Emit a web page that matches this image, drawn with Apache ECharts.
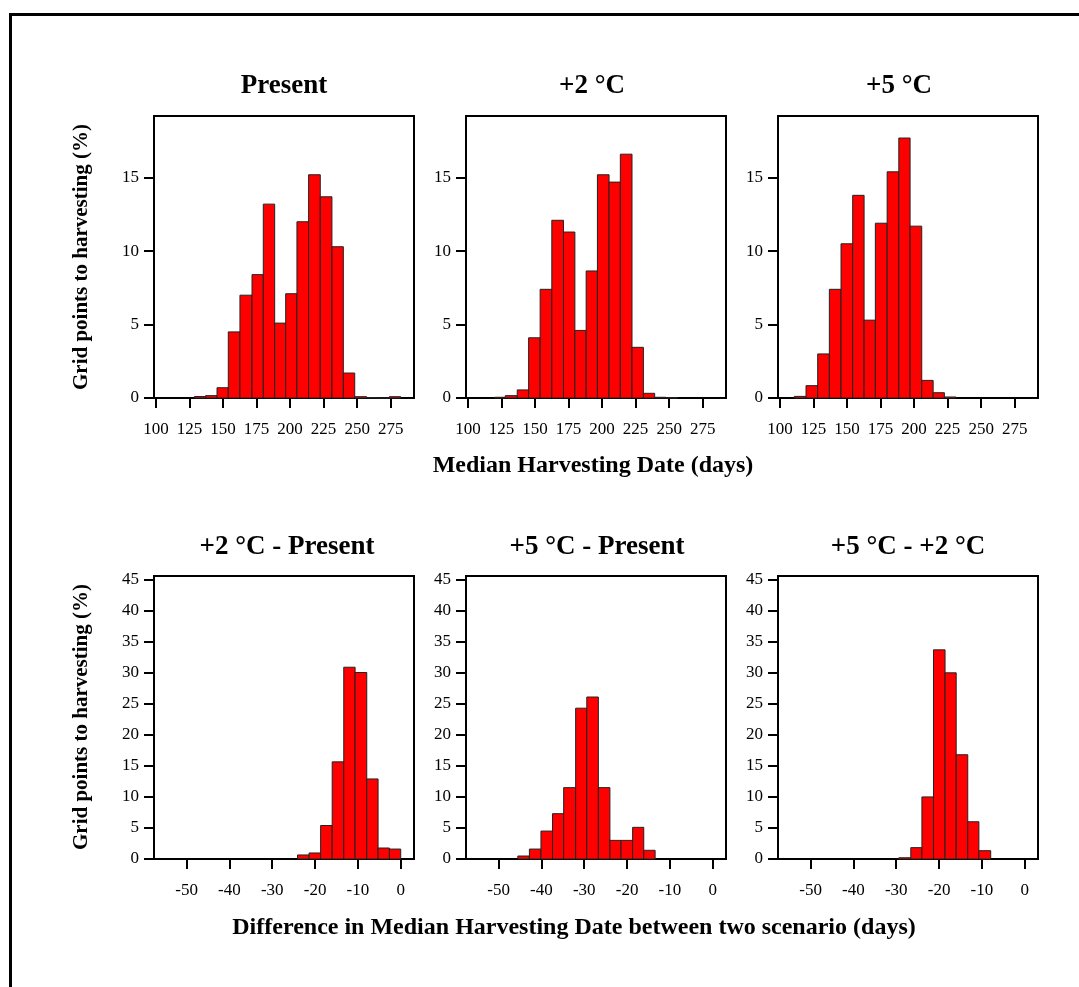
<!DOCTYPE html>
<html>
<head>
    <meta charset="utf-8">
    <script src="https://cdn.jsdelivr.net/npm/echarts@6/dist/echarts.min.js"></script>
</head>
<body style="margin: 0; background: #fff">
<div id="main" style="width: 1079px; height: 987px"></div>
<script type="text/javascript">
    // panel titles
    var titles = ['Present', '+2 \u00b0C', '+5 \u00b0C', '+2 \u00b0C - Present', '+5 \u00b0C - Present', '+5 \u00b0C - +2 \u00b0C'];

    // tick labels
    var dateTicks = [100, 125, 150, 175, 200, 225, 250, 275];
    var dateShareTicks = [0, 5, 10, 15];
    var diffTicks = [-50, -40, -30, -20, -10, 0];
    var diffShareTicks = [0, 5, 10, 15, 20, 25, 30, 35, 40, 45];

    // histogram bin edges (days) and heights (%)
    var presentEdges = [128.6, 137.0, 145.5, 153.9, 162.6, 171.6, 180.0, 188.5, 196.7, 205.1, 213.8, 222.5, 231.2, 239.7, 248.2, 257.1, 265.8, 274.0, 282.5];
    var presentValues = [0.10, 0.16, 0.7, 4.5, 7.0, 8.4, 13.2, 5.1, 7.1, 12.0, 15.2, 13.7, 10.3, 1.7, 0.09, 0.03, 0, 0.09];

    var plus2Edges = [119.9, 127.8, 136.7, 145.2, 153.8, 162.5, 171.2, 179.7, 188.1, 196.5, 205.2, 213.6, 222.3, 230.8, 239.2, 247.6, 256.3];
    var plus2Values = [0.05, 0.16, 0.55, 4.1, 7.4, 12.1, 11.3, 4.6, 8.65, 15.2, 14.7, 16.6, 3.45, 0.32, 0.05, 0.02];

    var plus5Edges = [110.7, 119.4, 128.1, 136.8, 145.5, 154.2, 162.7, 171.1, 179.9, 188.6, 197.0, 205.7, 214.2, 222.6, 231.3];
    var plus5Values = [0.11, 0.84, 3.0, 7.4, 10.5, 13.8, 5.3, 11.9, 15.4, 17.7, 11.7, 1.2, 0.36, 0.07];

    var diff2pEdges = [-24.1, -21.4, -18.7, -16.0, -13.3, -10.65, -7.93, -5.29, -2.64, 0];
    var diff2pValues = [0.65, 0.97, 5.4, 15.65, 30.9, 30.05, 12.9, 1.77, 1.6];

    var diff5pEdges = [-45.5, -42.8, -40.1, -37.4, -34.8, -32.0, -29.4, -26.7, -24.0, -21.4, -18.7, -16.1, -13.45];
    var diff5pValues = [0.48, 1.6, 4.5, 7.3, 11.5, 24.3, 26.1, 11.5, 3.0, 3.0, 5.1, 1.4];

    var diff52Edges = [-29.4, -26.6, -24.0, -21.3, -18.6, -16.0, -13.3, -10.7, -7.94];
    var diff52Values = [0.2, 1.83, 10.0, 33.7, 30.0, 16.8, 6.0, 1.34];

    var serif = "'Liberation Serif', 'Times New Roman', serif";

    var panels = [
        {edges: presentEdges, values: presentValues, top: true},
        {edges: plus2Edges, values: plus2Values, top: true},
        {edges: plus5Edges, values: plus5Values, top: true},
        {edges: diff2pEdges, values: diff2pValues, top: false},
        {edges: diff5pEdges, values: diff5pValues, top: false},
        {edges: diff52Edges, values: diff52Values, top: false}
    ];
    var lefts = [154, 466, 778];
    var titleX = [284, 592, 899, 287, 597, 908];

    function toBins(edges, values) {
        return values.map(function (v, i) {
            return [edges[i], edges[i + 1], v];
        });
    }

    function renderBar(params, api) {
        var p0 = api.coord([api.value(0), 0]);
        var p1 = api.coord([api.value(1), api.value(2)]);
        return {
            type: 'rect',
            shape: {x: p0[0], y: p1[1], width: p1[0] - p0[0], height: p0[1] - p1[1]},
            style: {fill: '#ff0000', stroke: '#222', lineWidth: 1}
        };
    }

    var axisLine = {show: true, onZero: false, lineStyle: {color: '#000', width: 2}};
    var axisTick = {show: true, length: 10, lineStyle: {color: '#000', width: 2}};
    var labelStyle = {color: '#000', fontFamily: serif, fontSize: 17};

    var grids = [], xAxes = [], yAxes = [], series = [];
    panels.forEach(function (p, i) {
        grids.push({
            left: lefts[i % 3], width: 260,
            top: p.top ? 116 : 576, height: p.top ? 282 : 283,
            show: true, borderColor: '#000', borderWidth: 2, containLabel: false
        });
        xAxes.push({
            type: 'value', gridIndex: i,
            min: p.top ? 98.5 : -57.6, max: p.top ? 292.4 : 3.1,
            splitLine: {show: false}, axisLine: axisLine,
            axisTick: Object.assign({customValues: p.top ? dateTicks : diffTicks}, axisTick),
            axisLabel: Object.assign({customValues: p.top ? dateTicks : diffTicks, margin: 23}, labelStyle)
        });
        yAxes.push({
            type: 'value', gridIndex: i,
            min: 0, max: p.top ? 19.2 : 45.6,
            splitLine: {show: false}, axisLine: axisLine,
            axisTick: Object.assign({customValues: p.top ? dateShareTicks : diffShareTicks}, axisTick),
            axisLabel: Object.assign({customValues: p.top ? dateShareTicks : diffShareTicks, margin: 15}, labelStyle)
        });
        series.push({
            type: 'custom', xAxisIndex: i, yAxisIndex: i,
            renderItem: renderBar, encode: {x: [0, 1], y: 2},
            data: toBins(p.edges, p.values), silent: true
        });
    });

    var texts = titles.map(function (t, i) {
        return {
            type: 'text', x: titleX[i], y: i < 3 ? 86 : 547,
            style: {text: t, fill: '#000', font: 'bold 27px ' + serif, textAlign: 'center', textVerticalAlign: 'middle'}
        };
    });
    texts.push(
        {type: 'text', x: 82, y: 257, rotation: Math.PI / 2,
            style: {text: 'Grid points to harvesting (%)', fill: '#000', font: 'bold 21px ' + serif, textAlign: 'center', textVerticalAlign: 'middle'}},
        {type: 'text', x: 82, y: 717, rotation: Math.PI / 2,
            style: {text: 'Grid points to harvesting (%)', fill: '#000', font: 'bold 21px ' + serif, textAlign: 'center', textVerticalAlign: 'middle'}},
        {type: 'text', x: 593, y: 466,
            style: {text: 'Median Harvesting Date (days)', fill: '#000', font: 'bold 24px ' + serif, textAlign: 'center', textVerticalAlign: 'middle'}},
        {type: 'text', x: 574, y: 928,
            style: {text: 'Difference in Median Harvesting Date between two scenario (days)', fill: '#000', font: 'bold 24px ' + serif, textAlign: 'center', textVerticalAlign: 'middle'}},
        {type: 'rect', shape: {x: 10.5, y: 14.5, width: 1200, height: 1200},
            style: {fill: 'none', stroke: '#000', lineWidth: 3}}
    );

    var myChart = echarts.init(document.getElementById('main'));
    myChart.setOption({
        animation: false,
        backgroundColor: '#fff',
        grid: grids,
        xAxis: xAxes,
        yAxis: yAxes,
        series: series,
        graphic: texts
    });
</script>
</body>
</html>
